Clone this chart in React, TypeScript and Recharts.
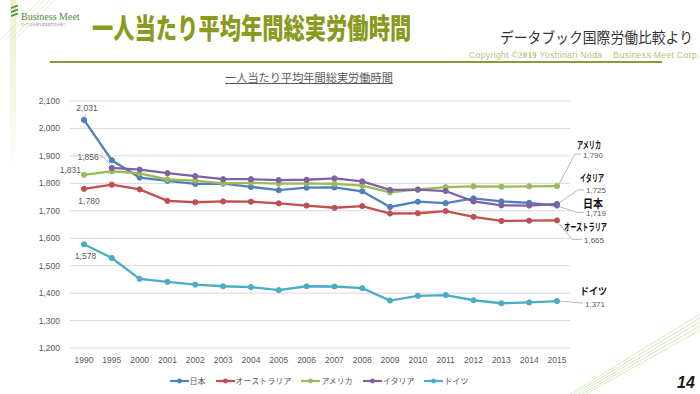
import React from 'react';
import { LineChart, Line, XAxis, YAxis, CartesianGrid, Legend } from 'recharts';

const years = ['1990','1995','2000','2001','2002','2003','2004','2005','2006','2007','2008','2009','2010','2011','2012','2013','2014','2015'];
const japan = [2031,1884,1821,1809,1798,1799,1787,1775,1784,1785,1771,1714,1733,1728,1745,1734,1729,1719];
const australia = [1780,1795,1778,1736,1731,1734,1733,1727,1719,1711,1717,1690,1691,1699,1678,1663,1664,1665];
const usa = [1831,1844,1836,1814,1810,1800,1802,1799,1800,1798,1792,1767,1778,1786,1789,1788,1789,1790];
const italy = [null,1856,1850,1837,1826,1815,1815,1812,1813,1818,1807,1776,1777,1772,1734,1720,1719,1725];
const germany = [1578,1528,1452,1441,1431,1425,1422,1411,1425,1424,1418,1373,1390,1393,1374,1363,1366,1371];
const yTicks = [1200,1300,1400,1500,1600,1700,1800,1900,2000,2100];

const seriesNames = { japan: '日本', australia: 'オーストラリア', usa: 'アメリカ', italy: 'イタリア', germany: 'ドイツ' };
const seriesColors = { japan: '#4f7fbc', australia: '#c0504d', usa: '#9bbb59', italy: '#7f62a1', germany: '#4bacc6' };
const seriesOrder = ['japan','australia','usa','italy','germany'];

const data = years.map((y, i) => ({
  year: y,
  japan: japan[i],
  australia: australia[i],
  usa: usa[i],
  italy: italy[i],
  germany: germany[i],
}));

const JP = '"Noto Sans CJK JP", "Noto Sans", sans-serif';
const NUM = '"Liberation Sans", Arial, sans-serif';
const GRAY = '#595959';

// label layout (styles, relative to the point)
type Pt = [number, number];
const startLabels: Record<string, { index: number; dx: number; dy: number; anchor: string; leader?: Pt[] }> = {
  japan: { index: 0, dx: 3, dy: -9, anchor: 'middle', leader: [[0, -3], [2, -6]] },
  italy: { index: 1, dx: -13, dy: -8, anchor: 'end', leader: [[-12, -11], [-8, -11], [-1, -2]] },
  usa: { index: 0, dx: -3, dy: -2, anchor: 'end' },
  australia: { index: 0, dx: 5, dy: 15.5, anchor: 'middle' },
  germany: { index: 0, dx: 1.5, dy: 15, anchor: 'middle' },
};
const endLabels: Record<string, { nx: number; ny: number; nw: number; ns: number; vx: number; vy: number; leader: Pt[] }> = {
  usa: { nx: 20, ny: -37.5, nw: 24, ns: 10, vx: 26, vy: -28.5, leader: [[2, -2], [18, -32], [24, -32]] },
  italy: { nx: 23, ny: -22, nw: 24, ns: 10, vx: 29, vy: -11, leader: [[2, -1], [21, -14], [27, -14]] },
  japan: { nx: 26, ny: 2, nw: 20, ns: 11.5, vx: 29, vy: 10.5, leader: [[2, 1], [21, 7], [27, 7]] },
  australia: { nx: 7, ny: 11, nw: 43, ns: 10, vx: 27, vy: 22.5, leader: [[2, 3], [15, 19], [25, 19]] },
  germany: { nx: 23, ny: -6.5, nw: 27, ns: 10, vx: 28, vy: 5.5, leader: [[2, 0], [26, 2]] },
};

const fmt = (v: number) => v.toLocaleString('en-US');

function makeDot(key: string) {
  const color = (seriesColors as any)[key];
  return (props: any) => {
    const { cx, cy, index, value } = props;
    if (cx == null || cy == null || value == null) return <g key={`d-${key}-${index}`} />;
    const v = Array.isArray(value) ? value[1] : value;
    const s = startLabels[key];
    const e = endLabels[key];
    const last = index === years.length - 1;
    const poly = (pts: Pt[]) => pts.map(p => `${cx + p[0]},${cy + p[1]}`).join(' ');
    return (
      <g key={`d-${key}-${index}`}>
        <circle cx={cx} cy={cy} r={2.6} fill={color} stroke={color} strokeWidth={1} />
        {s && s.index === index && (
          <g>
            {s.leader && <polyline points={poly(s.leader)} fill="none" stroke="#a6a6a6" strokeWidth={0.8} />}
            <text x={cx + s.dx} y={cy + s.dy} textAnchor={s.anchor as any} fontSize={8.5} fill={GRAY} fontFamily={NUM}>{fmt(v)}</text>
          </g>
        )}
        {e && last && (
          <g>
            <polyline points={poly(e.leader)} fill="none" stroke="#a6a6a6" strokeWidth={0.8} />
            <text x={cx + e.nx} y={cy + e.ny} fontSize={e.ns} fontWeight={700} fill="#111" fontFamily={JP}
              textLength={e.nw} lengthAdjust="spacingAndGlyphs">{(seriesNames as any)[key]}</text>
            <text x={cx + e.vx} y={cy + e.vy} fontSize={8} fill={GRAY} fontFamily={NUM}>{fmt(v)}</text>
          </g>
        )}
      </g>
    );
  };
}

const renderLegend = (props: any) => {
  const payload = [...(props.payload || [])].sort(
    (a: any, b: any) => seriesOrder.indexOf(a.dataKey) - seriesOrder.indexOf(b.dataKey)
  );
  return (
    <div style={{ display: 'flex', justifyContent: 'center', alignItems: 'center', fontFamily: JP, fontSize: 8, color: GRAY, paddingRight: 52 }}>
      {payload.map((p: any) => (
        <div key={p.value} style={{ display: 'flex', alignItems: 'center', marginRight: 10 }}>
          <svg width={19} height={8} style={{ marginRight: 1 }}>
            <line x1={0} y1={4} x2={19} y2={4} stroke={p.color} strokeWidth={2.2} />
            <circle cx={9.5} cy={4} r={2.4} fill={p.color} />
          </svg>
          <span>{p.value}</span>
        </div>
      ))}
    </div>
  );
};

export default function App() {
  return (
    <div style={{ position: 'absolute', left: 0, top: 0, width: 700, height: 394, overflow: 'hidden', background: '#fff' }}>
      {/* left pale band */}
      <div style={{ position: 'absolute', left: 10, top: 0, width: 6, height: 170, background: 'linear-gradient(#eef0cf, #f7f8e8 70%, rgba(255,255,255,0))' }} />
      <svg width={60} height={40} style={{ position: 'absolute', left: 0, top: 0 }}>
        {[0, 5, 10, 15].map(o => (
          <line key={o} x1={o} y1={40} x2={o + 40} y2={0} stroke="#e4e9c8" strokeWidth={0.8} />
        ))}
        <rect x={11} y={11} width={7} height={2} fill="#5d9a3a" transform="skewY(-20)" />
        <rect x={11} y={15} width={7} height={2} fill="#5d9a3a" transform="skewY(-20)" />
        <rect x={11} y={19} width={7} height={2} fill="#5d9a3a" transform="skewY(-20)" />
      </svg>
      <div style={{ position: 'absolute', left: 21, top: 11, fontFamily: '"Liberation Serif", serif', fontSize: 10, color: '#4f8a4a', whiteSpace: 'nowrap' }}>Business Meet</div>
      <div style={{ position: 'absolute', left: 21, top: 23, fontFamily: JP, fontSize: 3, color: '#888', whiteSpace: 'nowrap' }}>すべての企業を健康経営の企業に</div>

      {/* title */}
      <div style={{ position: 'absolute', left: 92, top: 12, fontFamily: JP, fontSize: 28, fontWeight: 900, color: '#8a9a1e', whiteSpace: 'nowrap', lineHeight: 1.1, transform: 'scaleX(0.76)', transformOrigin: 'left top' }}>一人当たり平均年間総実労働時間</div>
      <div style={{ position: 'absolute', left: 500, top: 29, fontFamily: JP, fontSize: 15, color: '#333', whiteSpace: 'nowrap', lineHeight: 1.1, transform: 'scaleX(0.92)', transformOrigin: 'left top' }}>データブック国際労働比較より</div>
      <div style={{ position: 'absolute', left: 469, top: 51, fontFamily: NUM, fontSize: 8.6, letterSpacing: 0.35, color: '#b6bf7c', whiteSpace: 'nowrap', lineHeight: 1.1 }}>Copyright ©<b style={{ fontFamily: '"Liberation Serif", serif' }}>2019</b> Yoshinari Noda&nbsp;&nbsp;&nbsp;&nbsp;Business Meet Corp.</div>
      <div style={{ position: 'absolute', left: 50, top: 61, width: 612, height: 2, background: '#8b9a3c' }} />

      {/* chart title */}
      <div style={{ position: 'absolute', left: 225, top: 71, fontFamily: JP, fontSize: 11.2, color: GRAY, whiteSpace: 'nowrap', textDecoration: 'underline', lineHeight: 1.2 }}>一人当たり平均年間総実労働時間</div>

      <div style={{ position: 'absolute', left: 0, top: 0 }}>
        <LineChart width={700} height={394} data={data} margin={{ top: 101, right: 130, bottom: 16, left: 30 }}>
          <CartesianGrid vertical={false} stroke="#d9d9d9" strokeWidth={1} />
          <XAxis dataKey="year" height={30} axisLine={false} tickLine={false} padding={{ left: 14, right: 13 }}
            tick={{ fontSize: 8.5, fill: GRAY, fontFamily: NUM }} interval={0} tickMargin={3} />
          <YAxis width={40} domain={[1200, 2100]} ticks={yTicks} axisLine={false} tickLine={false}
            tick={{ fontSize: 8.5, fill: GRAY, fontFamily: NUM }} tickFormatter={fmt} tickMargin={4} />
          <Legend verticalAlign="middle" align="center" layout="horizontal" content={renderLegend}
            wrapperStyle={{ top: 375, left: 0, width: 700, height: 14 }} />
          {seriesOrder.map(k => (
            <Line key={k} type="linear" dataKey={k} name={(seriesNames as any)[k]} stroke={(seriesColors as any)[k]}
              strokeWidth={2.3} dot={makeDot(k)} activeDot={false} isAnimationActive={false} connectNulls={false} />
          ))}
        </LineChart>
      </div>

      {/* bottom-right decoration */}
      <svg width={140} height={90} style={{ position: 'absolute', left: 560, top: 304 }}>
        {[0, 4, 8, 12, 16].map((o, i) => (
          <line key={o} x1={10 + o} y1={90} x2={140} y2={10 + o} stroke={i % 2 ? '#cfe3c0' : '#d8e6b8'} strokeWidth={0.9} />
        ))}
      </svg>
      <div style={{ position: 'absolute', left: 677, top: 374, fontFamily: NUM, fontSize: 16, fontWeight: 700, fontStyle: 'italic', color: '#1a1a1a', lineHeight: 1.1 }}>14</div>
    </div>
  );
}
